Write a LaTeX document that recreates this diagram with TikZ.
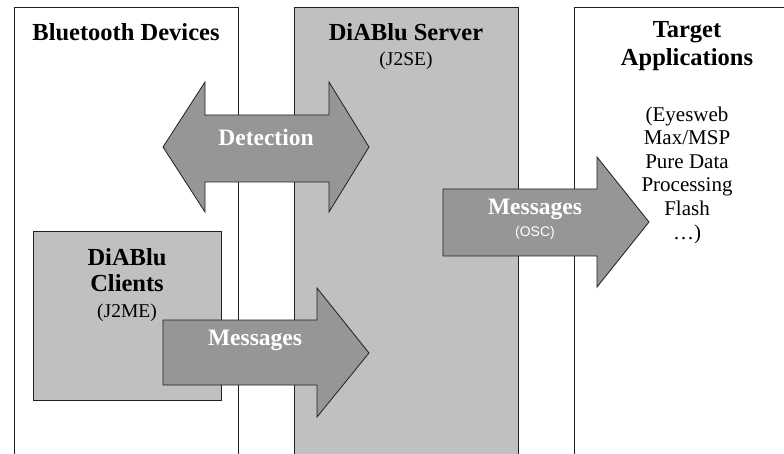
\documentclass[tikz,border=0pt]{standalone}
\usepackage{fontspec}
\setmainfont{Liberation Serif}
\setsansfont{Liberation Sans}

\definecolor{panelgray}{HTML}{C0C0C0}
\definecolor{arrowgray}{HTML}{969696}
\definecolor{linegray}{HTML}{202020}

\tikzset{
  panel/.style={draw=linegray, line width=1pt},
  blockarrow/.style={draw=linegray, fill=arrowgray, line width=0.8pt, line join=miter},
  boxtitle/.style={font=\fontsize{24.5}{28}\selectfont\bfseries, align=center, inner sep=0pt},
  subtitle/.style={font=\fontsize{19.5}{22}\selectfont, text=black, inner sep=0pt},
  applist/.style={font=\fontsize{21}{23.6}\selectfont, align=center, inner sep=0pt},
  arrowlabel/.style={font=\fontsize{23.5}{26}\selectfont\bfseries, text=white, inner sep=0pt},
}

\begin{document}
\begin{tikzpicture}[x=1pt, y=-1pt]
        \useasboundingbox (0, 0) rectangle (784, 454);
        \clip (0, 0) rectangle (784, 454);

        % the three columns
        \draw[panel] (14, 470) -- (14, 8) -- (238, 8) -- (238, 470);
        \draw[panel, fill=panelgray] (294, 470) -- (294, 8) -- (518, 8) -- (518, 470);
        \draw[panel] (574, 470) -- (574, 8) -- (800, 8);

        \node[boxtitle] (devtitle) at (126, 32) {Bluetooth Devices};
        \node[boxtitle] (srvtitle) at (406, 32) {DiABlu Server};
        \node[subtitle] (srvsub) at (406, 61) {(J2SE)};
        \node[boxtitle] (apptitle) at (687, 46) {Target\\Applications};
        \node[applist] (applist) at (687, 175) {(Eyesweb\\Max/MSP\\Pure Data\\Processing\\Flash\\\dots)};

        % clients box
        \draw[panel, fill=panelgray] (33, 232) rectangle (221, 400);
        \node[boxtitle, font=\fontsize{24.5}{26}\selectfont\bfseries] (clititle) at (127, 270) {DiABlu\\Clients};
        \node[subtitle] (clisub) at (127, 313) {(J2ME)};

        % detection (both ways)
        \draw[blockarrow] (163, 147) -- (205, 82) -- (205, 115) -- (329, 115) -- (329, 82)
            -- (369, 147) -- (329, 212) -- (329, 182) -- (205, 182) -- (205, 212) -- cycle;
        \node[arrowlabel] (detect) at (266, 137) {Detection};

        % messages from the clients
        \draw[blockarrow] (163, 320) -- (317, 320) -- (317, 288) -- (369, 353)
            -- (317, 417) -- (317, 385) -- (163, 385) -- cycle;
        \node[arrowlabel] (climsg) at (255, 340) {Messages};

        % messages to the applications
        \draw[blockarrow] (443, 189) -- (597, 189) -- (597, 157) -- (649, 222)
            -- (597, 287) -- (597, 256) -- (443, 256) -- cycle;
        \node[arrowlabel] (oscmsg) at (535, 209) {Messages};
        \node[font=\sffamily\fontsize{14}{16}\selectfont, text=white, inner sep=0pt] (osc) at (535, 233) {(OSC)};
    \end{tikzpicture}
\end{document}
